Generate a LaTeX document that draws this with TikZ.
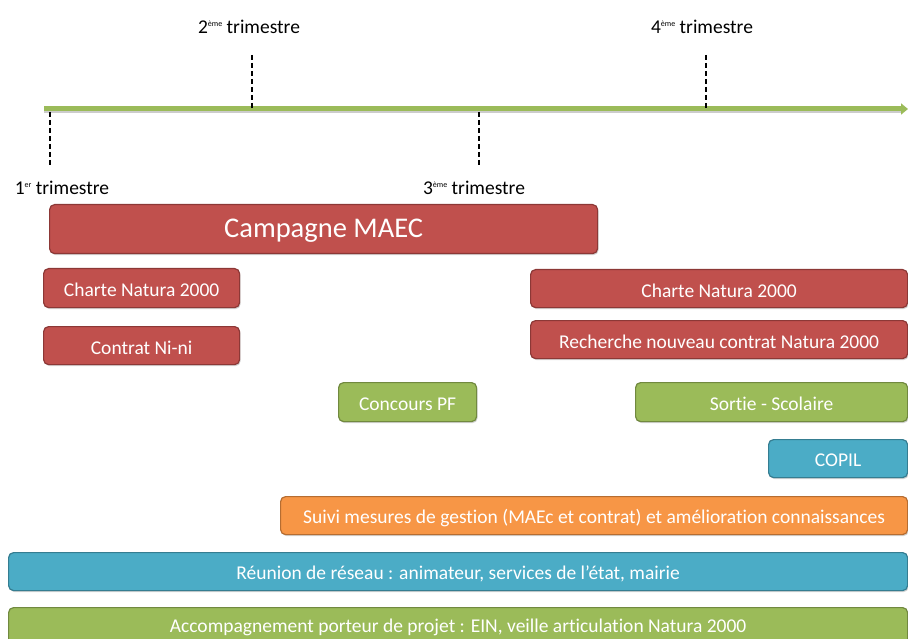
\documentclass[tikz,border=0pt]{standalone}
\usepackage{fontspec}
\setmainfont{Carlito}[Ligatures={NoCommon}]
\usetikzlibrary{arrows.meta,shadows}
\definecolor{rouge}{HTML}{C0504D}
\definecolor{rougeb}{HTML}{8C3836}
\definecolor{vert}{HTML}{9BBB59}
\definecolor{vertb}{HTML}{71893F}
\definecolor{bleu}{HTML}{4BACC6}
\definecolor{bleub}{HTML}{357D91}
\definecolor{orange}{HTML}{F79646}
\definecolor{orangeb}{HTML}{B66D31}
\definecolor{axe}{HTML}{9BBB59}
\newcommand\expo[1]{\raisebox{0.75ex}{\fontsize{8}{8}\selectfont #1}}
\newcommand\bas[1]{\raisebox{-2pt}[\height][\depth]{#1}}
\tikzset{
  barre/.style={rounded corners=5pt, line width=1.2pt, anchor=north west, inner sep=0pt,
    text=white, font=\fontsize{19.5}{22}\selectfont,
    drop shadow={shadow xshift=1pt, shadow yshift=-1.5pt, opacity=0.35}},
  rougebox/.style={barre, fill=rouge, draw=rougeb},
  vertbox/.style={barre, fill=vert, draw=vertb},
  bleubox/.style={barre, fill=bleu, draw=bleub},
  orangebox/.style={barre, fill=orange, draw=orangeb},
  tick/.style={dashed, line width=1.6pt, dash pattern=on 5pt off 3pt},
  trim/.style={font=\fontsize{19.5}{22}\selectfont, inner sep=0pt}
}
\begin{document}
\begin{tikzpicture}[x=1pt,y=-1pt]
\useasboundingbox (0,0) rectangle (908,639);
% axis
\coordinate (a0) at (44,109);
\coordinate (a1) at (908,109);
\draw[line width=5pt, gray!40] ([yshift=-1.5pt]a0) -- ([yshift=-1.5pt,xshift=-6pt]a1);
\draw[line width=5pt, axe, -{Triangle[length=7pt,width=11pt]}] (a0) -- (a1);
% ticks
\coordinate (t1a) at (50,112); \coordinate (t1b) at (50,167);
\coordinate (t2a) at (252,55); \coordinate (t2b) at (252,110);
\coordinate (t3a) at (479,112); \coordinate (t3b) at (479,167);
\coordinate (t4a) at (706,55); \coordinate (t4b) at (706,110);
\draw[tick] (t1a) -- (t1b);
\draw[tick] (t2a) -- (t2b);
\draw[tick] (t3a) -- (t3b);
\draw[tick] (t4a) -- (t4b);
\node[trim] (l1) at (62,188) {1\expo{er} trimestre};
\node[trim] (l2) at (249,27) {2\expo{ème} trimestre};
\node[trim] (l3) at (474,188) {3\expo{ème} trimestre};
\node[trim] (l4) at (702,27) {4\expo{ème} trimestre};
% boxes
\node[rougebox, minimum width=548pt, minimum height=49pt, font=\fontsize{28.5}{32}\selectfont] (maec) at (49,204) {\bas{Campagne MAEC}};
\node[rougebox, minimum width=196pt, minimum height=39pt] (ch1) at (43,268) {\bas{Charte Natura 2000}};
\node[rougebox, minimum width=196pt, minimum height=38pt] (ni) at (43,326) {\bas{Contrat Ni-ni}};
\node[rougebox, minimum width=377pt, minimum height=38pt] (ch2) at (530,269) {\bas{Charte Natura 2000}};
\node[rougebox, minimum width=377pt, minimum height=38pt] (rech) at (530,320) {\bas{Recherche nouveau contrat Natura 2000}};
\node[vertbox, minimum width=138pt, minimum height=39pt] (pf) at (338,382) {\bas{Concours PF}};
\node[vertbox, minimum width=272pt, minimum height=39pt] (sortie) at (635,382) {\bas{Sortie - Scolaire}};
\node[bleubox, minimum width=139pt, minimum height=38pt] (copil) at (768,439) {\bas{COPIL}};
\node[orangebox, minimum width=627pt, minimum height=38pt] (suivi) at (280,496) {\bas{Suivi mesures de gestion (MAEc et contrat) et amélioration connaissances}};
\node[bleubox, minimum width=899pt, minimum height=38pt] (reun) at (8,552) {\bas{Réunion de réseau : animateur, services de l'état, mairie}};
\node[vertbox, minimum width=899pt, minimum height=40pt] (acc) at (8,607) {Accompagnement porteur de projet : EIN, veille articulation Natura 2000};
\end{tikzpicture}
\end{document}
